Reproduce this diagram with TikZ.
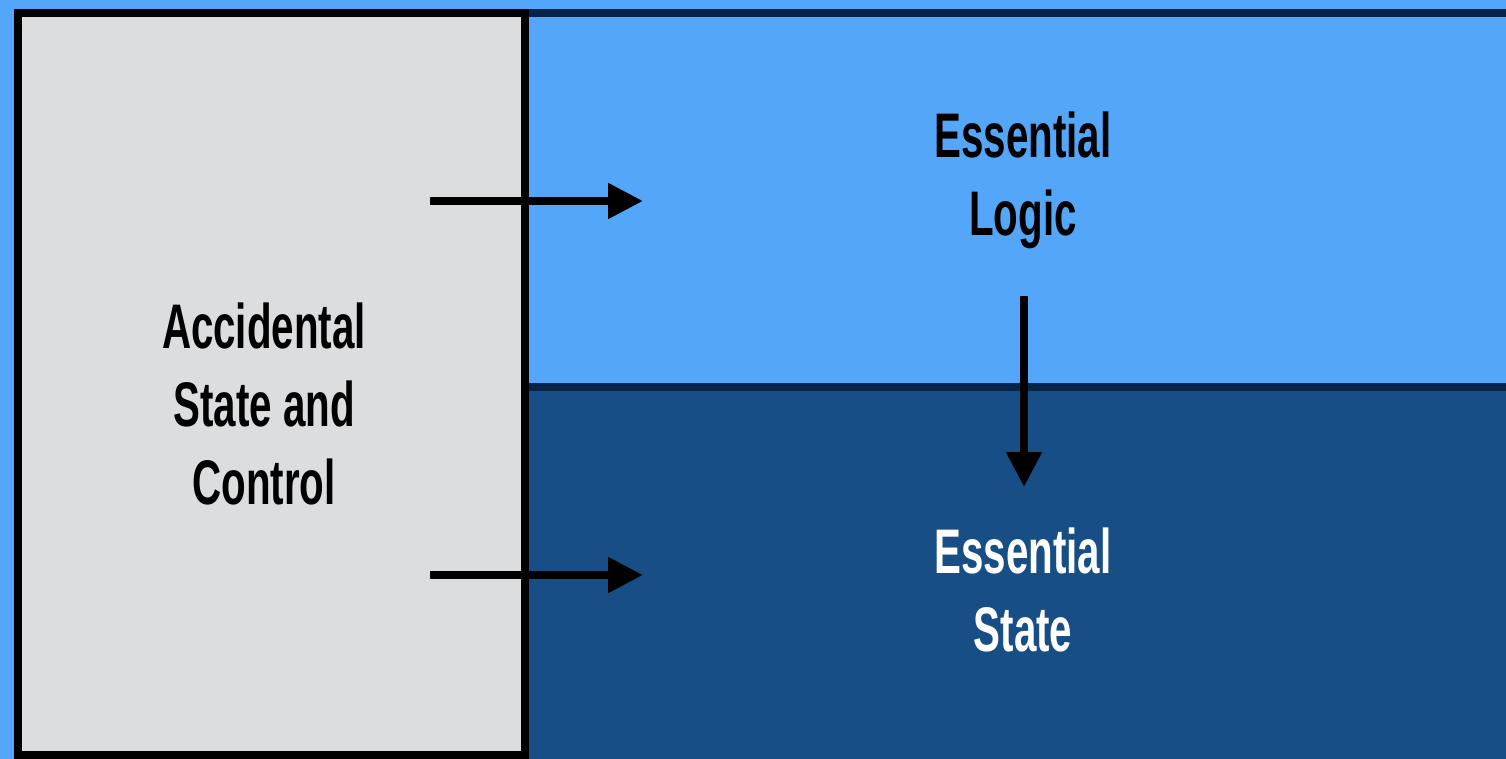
\documentclass[tikz,border=0pt]{standalone}
\usepackage{fontspec}
\newfontfamily\condfont[FakeStretch=0.64]{Liberation Sans}
\usetikzlibrary{arrows.meta}

\definecolor{skyblue}{RGB}{83,166,248}
\definecolor{deepblue}{RGB}{23,78,133}
\definecolor{navyline}{RGB}{6,35,74}
\definecolor{panelgray}{RGB}{220,221,223}

\tikzset{
  panel/.style={rectangle, line width=8pt, inner sep=0pt, outer sep=0pt},
  label/.style={inner sep=0pt, align=center, anchor=north,
    font=\condfont\bfseries\fontsize{63}{78}\selectfont},
  flow/.style={line width=8pt, -{Triangle[length=35pt,width=34pt]}},
}

\begin{document}
\begin{tikzpicture}[x=1pt, y=-1pt]
  % canvas
  \fill[skyblue] (0,0) rectangle (1506,759);
  \useasboundingbox (0,0) rectangle (1506,759);

  % essential layers
  \node[panel, draw=navyline, fill=deepblue, minimum width=990pt, minimum height=388pt]
    (statepanel) at (1020,581) {};
  \node[panel, draw=navyline, fill=skyblue, minimum width=990pt, minimum height=374pt]
    (logicpanel) at (1020,200) {};

  % accidental layer
  \node[panel, draw=black, fill=panelgray, minimum width=507pt, minimum height=742pt]
    (accpanel) at (271.5,384) {};

  % labels
  \node[label, text=black] (logictext) at (1023,112) {Essential\\Logic};
  \node[label, text=white] (statetext) at (1023,528) {Essential\\State};
  \node[label, text=black] (acctext) at (264,303) {Accidental\\State and\\Control};

  % arrows
  \coordinate (ctrlA) at (430,201);
  \coordinate (logicIn) at (643,201);
  \coordinate (ctrlB) at (430,575);
  \coordinate (stateIn) at (643,575);
  \coordinate (logicOut) at (1024,296);
  \coordinate (stateTop) at (1024,487);

  \draw[flow] (ctrlA) -- (logicIn);
  \draw[flow] (ctrlB) -- (stateIn);
  \draw[flow] (logicOut) -- (stateTop);
\end{tikzpicture}
\end{document}
